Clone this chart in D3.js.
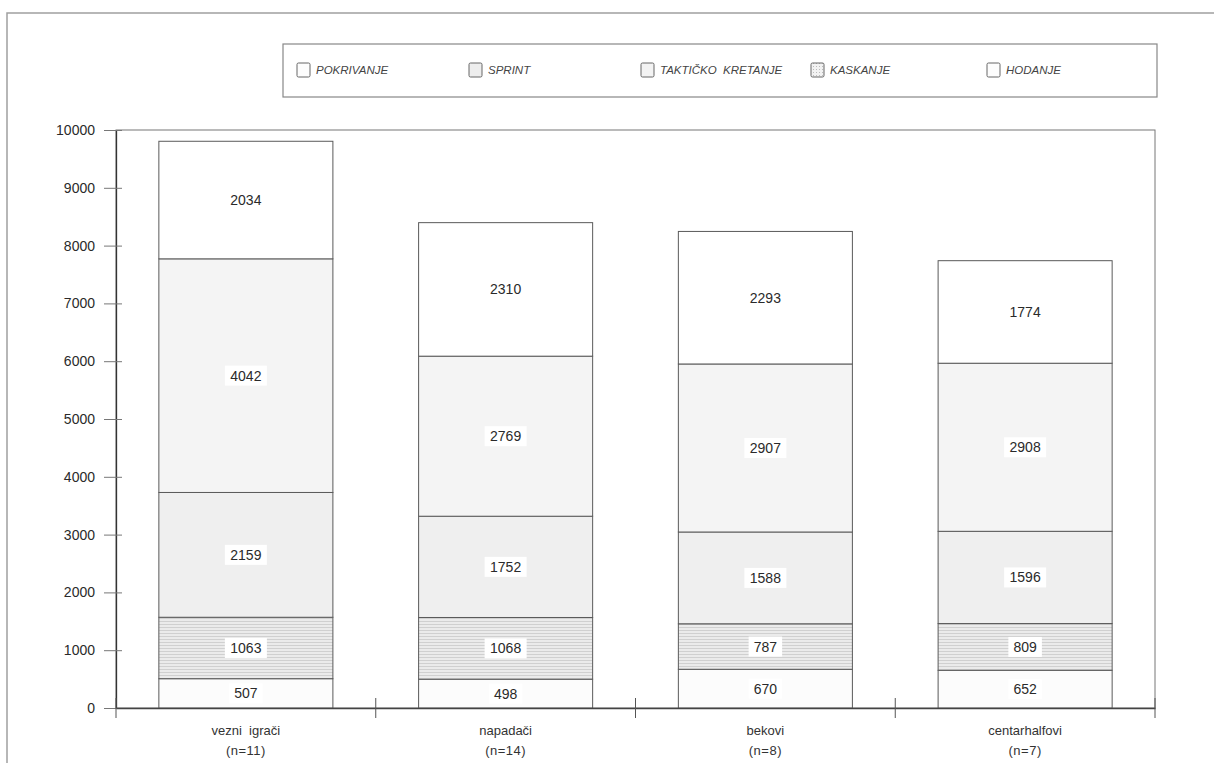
<!DOCTYPE html>
<html><head><meta charset="utf-8">
<script src="https://cdn.jsdelivr.net/npm/d3@7/dist/d3.min.js"></script>
<style>body{margin:0;background:#fff}svg{display:block;font-family:"Liberation Sans",Arial,sans-serif}</style>
</head><body>
<script>
const categories = ["vezni  igrači","napadači","bekovi","centarhalfovi"];
const groupSizes = ["(n=11)","(n=14)","(n=8)","(n=7)"];
const seriesNames = ["POKRIVANJE","SPRINT","TAKTIČKO  KRETANJE","KASKANJE","HODANJE"];
const pokrivanje = [507,498,670,652];
const sprint = [1063,1068,787,809];
const takticko = [2159,1752,1588,1596];
const kaskanje = [4042,2769,2907,2908];
const hodanje = [2034,2310,2293,1774];
const yTicks = [0,1000,2000,3000,4000,5000,6000,7000,8000,9000,10000];

const seriesValues = [pokrivanje,sprint,takticko,kaskanje,hodanje];
const table = categories.map((c,i)=>{const o={cat:c}; seriesNames.forEach((s,j)=>o[s]=seriesValues[j][i]); return o;});

const W=1214,H=763;
const svg=d3.select("body").append("svg").attr("width",W).attr("height",H);
const defs=svg.append("defs");
const pat=defs.append("pattern").attr("id","hatch").attr("patternUnits","userSpaceOnUse").attr("width",6).attr("height",3);
pat.append("rect").attr("width",6).attr("height",3).attr("fill","#ebebeb");
pat.append("rect").attr("width",6).attr("height",1).attr("fill","#d0d0d0");
const dots=defs.append("pattern").attr("id","dots").attr("patternUnits","userSpaceOnUse").attr("width",3).attr("height",3);
dots.append("rect").attr("width",3).attr("height",3).attr("fill","#f2f2f2");
dots.append("rect").attr("width",1).attr("height",1).attr("fill","#bbb");

const fills=["#fcfcfc","url(#hatch)","#efefef","#f4f4f4","#ffffff"];
const swatchFills=["#fdfdfd","#ededed","#f3f3f3","url(#dots)","#fdfdfd"];

// outer frame
svg.append("path").attr("d",`M7,${H} V13 H${W}`).attr("fill","none").attr("stroke","#a0a0a0").attr("stroke-width",1.5);

const x0=116,x1=1155,yTop=130,yBot=708;
const x=d3.scaleBand().domain(categories).range([x0,x1]).paddingInner(0.33).paddingOuter(0.165);
const y=d3.scaleLinear().domain([0,10000]).range([yBot,yTop]);

// plot box
svg.append("rect").attr("x",x0).attr("y",yTop).attr("width",x1-x0).attr("height",yBot-yTop).attr("fill","none").attr("stroke","#777").attr("stroke-width",1);

const stack=d3.stack().keys(seriesNames)(table);
const g=svg.append("g");
stack.forEach((layer,j)=>{
  g.selectAll(null).data(layer).join("rect")
   .attr("x",d=>x(d.data.cat)).attr("width",x.bandwidth())
   .attr("y",d=>y(d[1])).attr("height",d=>y(d[0])-y(d[1]))
   .attr("fill",fills[j]).attr("stroke","#5a5a5a").attr("stroke-width",1);
});
stack.forEach((layer,j)=>{
  layer.forEach(d=>{
    const cx=x(d.data.cat)+x.bandwidth()/2, cy=(y(d[0])+y(d[1]))/2;
    const t=String(d[1]-d[0]);
    const w=t.length*8.5+8;
    g.append("rect").attr("x",cx-w/2).attr("y",cy-10).attr("width",w).attr("height",20).attr("fill","#fff");
    g.append("text").attr("x",cx).attr("y",cy).attr("dy","0.36em").attr("text-anchor","middle")
     .attr("font-size",14).attr("fill","#2a2a2a").text(t);
  });
});

// y axis
const ya=svg.append("g").attr("transform",`translate(${x0},0)`)
  .call(d3.axisLeft(y).tickValues(yTicks).tickFormat(d3.format("d")).tickSize(0).tickPadding(21));
ya.select(".domain").attr("stroke","#333").attr("stroke-width",1.3);
ya.selectAll("text").attr("font-size",14).attr("fill","#2a2a2a").attr("font-family","Liberation Sans, Arial, sans-serif");
ya.selectAll(".tick").append("line").attr("x1",-12).attr("x2",6).attr("stroke","#777");

// x axis
const xa=svg.append("g").attr("transform",`translate(0,${yBot})`)
  .call(d3.axisBottom(x).tickSize(0).tickFormat(""));
xa.select(".domain").attr("stroke","#444").attr("stroke-width",1.3);
const bounds=[x0, ...categories.slice(1).map(c=>x(c)-x.step()*x.paddingInner()/2), x1];
svg.selectAll(null).data(bounds).join("line").attr("x1",d=>d).attr("x2",d=>d).attr("y1",yBot-10).attr("y2",yBot+10).attr("stroke","#555");
categories.forEach((c,i)=>{
  const cx=x(c)+x.bandwidth()/2;
  svg.append("text").attr("x",cx).attr("y",735).attr("text-anchor","middle").attr("font-size",13).attr("fill","#333")
    .style("white-space","pre").text(c);
  svg.append("text").attr("x",cx).attr("y",755).attr("text-anchor","middle").attr("font-size",13).attr("letter-spacing",0.5).attr("fill","#333").text(groupSizes[i]);
});

// legend
svg.append("rect").attr("x",283).attr("y",44).attr("width",874).attr("height",53).attr("fill","none").attr("stroke","#888").attr("stroke-width",1.2);
const legX=[297,469,641,811,987];
seriesNames.forEach((s,j)=>{
  svg.append("rect").attr("x",legX[j]).attr("y",63).attr("width",13).attr("height",14).attr("rx",1.5)
    .attr("fill",swatchFills[j]).attr("stroke","#666").attr("stroke-width",1);
  svg.append("text").attr("x",legX[j]+19).attr("y",70).attr("dy","0.36em").attr("font-size",11.5).attr("font-style","italic")
    .attr("fill","#444").style("white-space","pre").text(s);
});
</script>
</body></html>
